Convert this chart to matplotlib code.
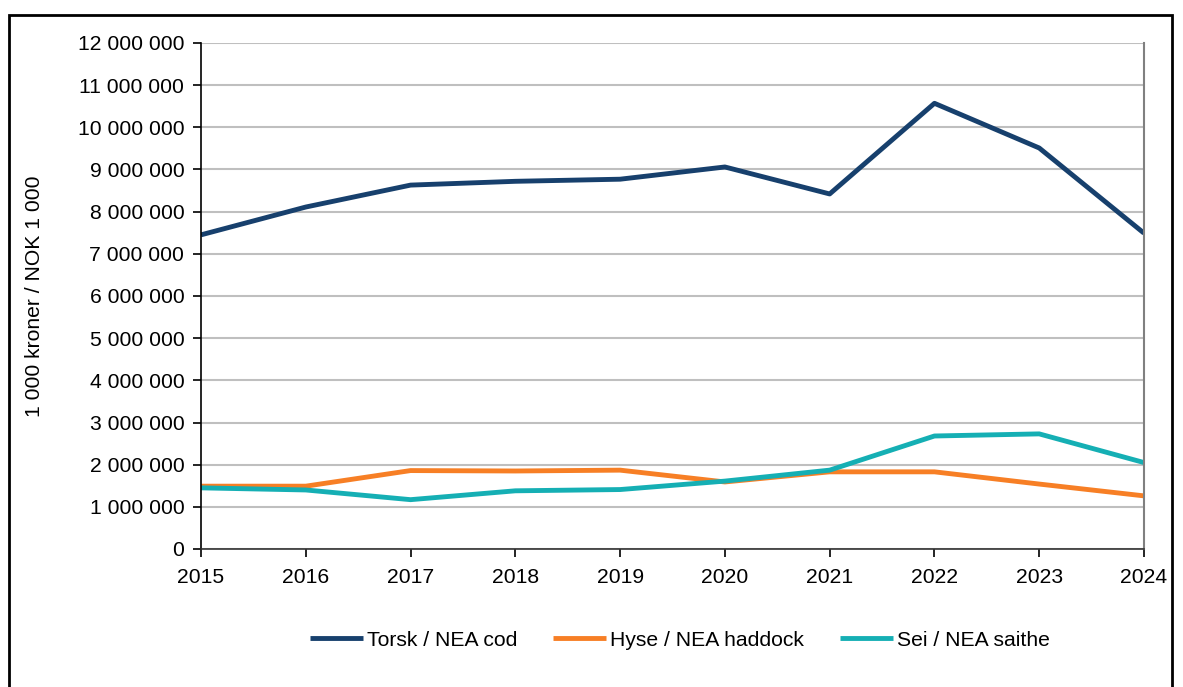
import matplotlib
matplotlib.use("Agg")
import matplotlib.pyplot as plt
import matplotlib.patches as patches
from matplotlib.ticker import FuncFormatter
import numpy as np

# Data (1 000 kroner)
years = [2015, 2016, 2017, 2018, 2019, 2020, 2021, 2022, 2023, 2024]
torsk = [7450000, 8110000, 8630000, 8720000, 8770000, 9060000, 8420000, 10570000, 9510000, 7490000]
hyse = [1490000, 1490000, 1860000, 1850000, 1870000, 1590000, 1830000, 1830000, 1540000, 1260000]
sei = [1450000, 1400000, 1170000, 1380000, 1410000, 1610000, 1870000, 2680000, 2730000, 2050000]

labels = ["Torsk / NEA cod", "Hyse / NEA haddock", "Sei / NEA saithe"]
colors = ["#17406D", "#F77F25", "#15AFB4"]

plt.rcParams["font.family"] = ["Liberation Sans", "DejaVu Sans"]
plt.rcParams["font.size"] = 15.2

fig = plt.figure(figsize=(11.83, 6.87), dpi=100)
ax = fig.add_axes([201 / 1183, 1 - 549 / 687, (1144 - 201) / 1183, (549 - 43) / 687])

for vals, lab, col in zip([torsk, hyse, sei], labels, colors):
    ax.plot(years, vals, color=col, linewidth=3.5, label=lab, solid_capstyle="butt")

ax.set_xlim(years[0], years[-1])
ax.set_ylim(0, 12000000)
ax.set_xticks(years)
ax.set_yticks(np.arange(0, 12000001, 1000000))
ax.yaxis.set_major_formatter(FuncFormatter(lambda v, p: "{:,.0f}".format(v).replace(",", " ")))
ax.grid(axis="y", color="#BFBFBF", linewidth=1.5)
ax.set_axisbelow(True)

ax.spines["top"].set_visible(False)
ax.spines["right"].set_color("#808080")
ax.spines["right"].set_linewidth(1.5)
ax.spines["left"].set_linewidth(1.2)
ax.spines["bottom"].set_linewidth(1.2)
ax.spines["bottom"].set_color("#333333")
ax.tick_params(axis="both", direction="out", length=6, width=1.2, colors="black", labelsize=15.2)
ax.tick_params(axis="x", pad=8)
ax.tick_params(axis="y", pad=6)

ax.set_ylabel("1 000 kroner / NOK 1 000", fontsize=15.2, labelpad=24)

fig.legend(loc="center", bbox_to_anchor=(680 / 1183, 1 - 640 / 687), ncol=3, frameon=False,
           handlelength=2.5, handletextpad=0.2, columnspacing=1.7, fontsize=15.2)

# outer frame
frame = patches.Rectangle((9 / 1183, -0.05), (1172 - 9) / 1183, 1.05 - 15 / 687,
                          transform=fig.transFigure, fill=False, edgecolor="black",
                          linewidth=2, clip_on=False)
fig.patches.append(frame)

fig.savefig("out.png", dpi=100)
